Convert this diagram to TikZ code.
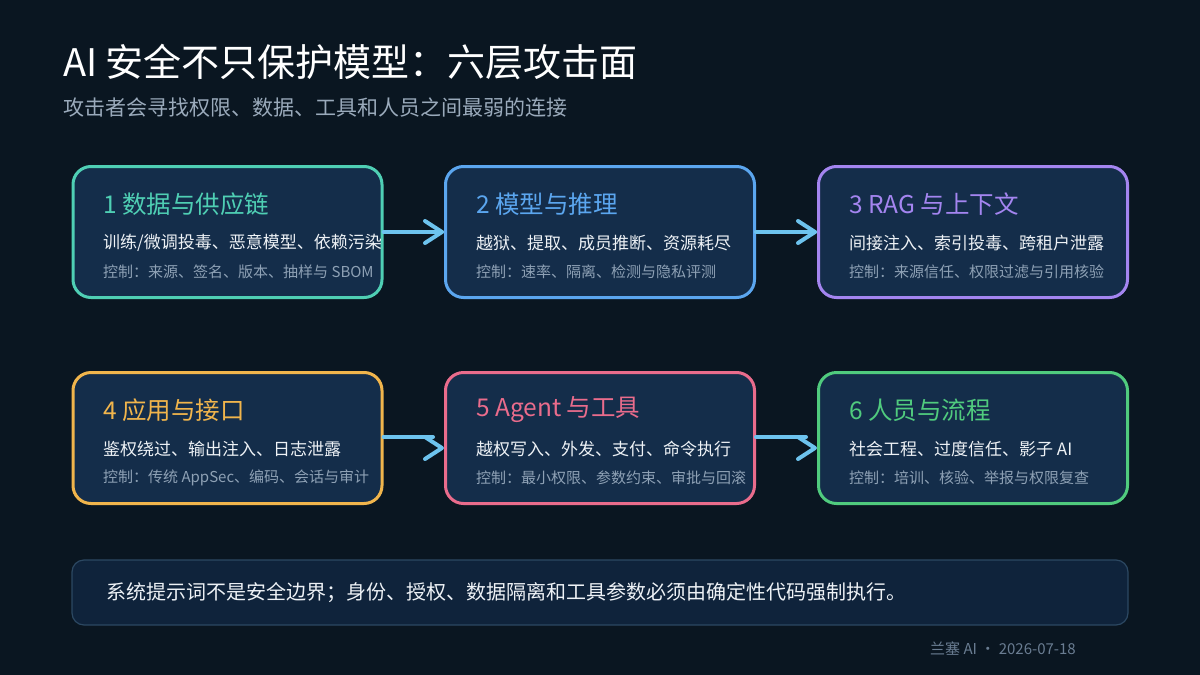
\documentclass[tikz,border=0pt]{standalone}
\usepackage{fontspec}
\setmainfont{Noto Sans CJK SC}
\usetikzlibrary{calc}
\definecolor{bg}{HTML}{0A1621}
\definecolor{boxfill}{HTML}{142D4A}
\definecolor{cteal}{HTML}{4FCFB4}
\definecolor{cblue}{HTML}{5BA6EF}
\definecolor{cpurple}{HTML}{A485F0}
\definecolor{corange}{HTML}{F1B54C}
\definecolor{cpink}{HTML}{EA6C8C}
\definecolor{cgreen}{HTML}{50CB7E}
\definecolor{arrowc}{HTML}{6DC3EE}
\definecolor{txtwhite}{HTML}{EEF2F6}
\definecolor{txtgray}{HTML}{8EA1B5}
\definecolor{subgray}{HTML}{9AAABB}
\definecolor{notefill}{HTML}{0F233B}
\definecolor{noteline}{HTML}{2C4862}
\definecolor{footgray}{HTML}{6A7D92}
\tikzset{
  layerbox/.style={draw, line width=3pt, fill=boxfill, rounded corners=18pt,
    minimum width=309pt, minimum height=131pt, inner sep=0pt},
  boxtitle/.style={anchor=west, inner sep=0pt, font=\fontsize{24.5}{28}\selectfont},
  boxline/.style={anchor=west, inner sep=0pt, text=txtwhite, font=\fontsize{17}{20}\selectfont},
  boxctrl/.style={anchor=west, inner sep=0pt, text=txtgray, font=\fontsize{15}{18}\selectfont},
  conn/.style={draw=arrowc, line width=4pt, line cap=round, line join=round},
}
\begin{document}
\begin{tikzpicture}[x=1pt,y=-1pt]
\fill[bg] (0,0) rectangle (1200,675);
\useasboundingbox (0,0) rectangle (1200,675);

% title
\node[anchor=west, inner sep=0pt, text=white, font=\fontsize{38}{42}\selectfont] (title) at (63,62) {AI 安全不只保护模型：六层攻击面};
\node[anchor=west, inner sep=0pt, text=subgray, font=\fontsize{21}{25}\selectfont] (subtitle) at (63,108) {攻击者会寻找权限、数据、工具和人员之间最弱的连接};

% boxes
\node[layerbox, draw=cteal] (b1) at (227.5,232) {};
\node[layerbox, draw=cblue] (b2) at (600,232) {};
\node[layerbox, draw=cpurple] (b3) at (973,232) {};
\node[layerbox, draw=corange] (b4) at (227.5,438) {};
\node[layerbox, draw=cpink] (b5) at (600,438) {};
\node[layerbox, draw=cgreen] (b6) at (973,438) {};

% box texts
\node[boxtitle, text=cteal] (t1) at (103,204) {1 数据与供应链};
\node[boxline] (l1) at (103,243) {训练/微调投毒、恶意模型、依赖污染};
\node[boxctrl] (c1) at (103,271.5) {控制：来源、签名、版本、抽样与 SBOM};

\node[boxtitle, text=cblue] (t2) at (476,204) {2 模型与推理};
\node[boxline] (l2) at (476,243) {越狱、提取、成员推断、资源耗尽};
\node[boxctrl] (c2) at (476,271.5) {控制：速率、隔离、检测与隐私评测};

\node[boxtitle, text=cpurple] (t3) at (849,204) {3 RAG 与上下文};
\node[boxline] (l3) at (849,243) {间接注入、索引投毒、跨租户泄露};
\node[boxctrl] (c3) at (849,271.5) {控制：来源信任、权限过滤与引用核验};

\node[boxtitle, text=corange] (t4) at (103,410) {4 应用与接口};
\node[boxline] (l4) at (103,449) {鉴权绕过、输出注入、日志泄露};
\node[boxctrl] (c4) at (103,477.5) {控制：传统 AppSec、编码、会话与审计};

\node[boxtitle, text=cpink] (t5) at (476,410) {5 Agent 与工具};
\node[boxline] (l5) at (476,449) {越权写入、外发、支付、命令执行};
\node[boxctrl] (c5) at (476,477.5) {控制：最小权限、参数约束、审批与回滚};

\node[boxtitle, text=cgreen] (t6) at (849,410) {6 人员与流程};
\node[boxline] (l6) at (849,449) {社会工程、过度信任、影子 AI};
\node[boxctrl] (c6) at (849,477.5) {控制：培训、核验、举报与权限复查};

% connectors row 1
\draw[conn] (b1.east) -- ($(b2.west)+(-2,0)$);
\draw[conn] ($(b2.west)+(-19,-11)$) -- ($(b2.west)+(-2,0)$) -- ($(b2.west)+(-19,11)$);
\draw[conn] (b2.east) -- ($(b3.west)+(-2,0)$);
\draw[conn] ($(b3.west)+(-19,-11)$) -- ($(b3.west)+(-2,0)$) -- ($(b3.west)+(-19,11)$);

% connectors row 2 (tip offset below the line)
\coordinate (tip5) at ($(b5.west)+(-2,10)$);
\coordinate (tip6) at ($(b6.west)+(-2,10)$);
\draw[conn] ($(b4.east)+(0,-1)$) -- ($(b5.west)+(-11,-1)$);
\draw[conn] ($(tip5)+(-17,-11)$) -- (tip5) -- ($(tip5)+(-17,11)$);
\draw[conn] ($(b5.east)+(0,-1)$) -- ($(b6.west)+(-11,-1)$);
\draw[conn] ($(tip6)+(-17,-11)$) -- (tip6) -- ($(tip6)+(-17,11)$);

% note box
\draw[fill=notefill, draw=noteline, line width=1.2pt, rounded corners=12pt] (72,560) rectangle (1128,625);
\node[anchor=west, inner sep=0pt, text=txtwhite, font=\fontsize{20}{24}\selectfont] (note) at (106,593) {系统提示词不是安全边界；身份、授权、数据隔离和工具参数必须由确定性代码强制执行。};

% footer
\node[anchor=east, inner sep=0pt, text=footgray, font=\fontsize{15}{18}\selectfont] (foot) at (1076,649) {兰塞 AI · 2026-07-18};
\end{tikzpicture}
\end{document}
